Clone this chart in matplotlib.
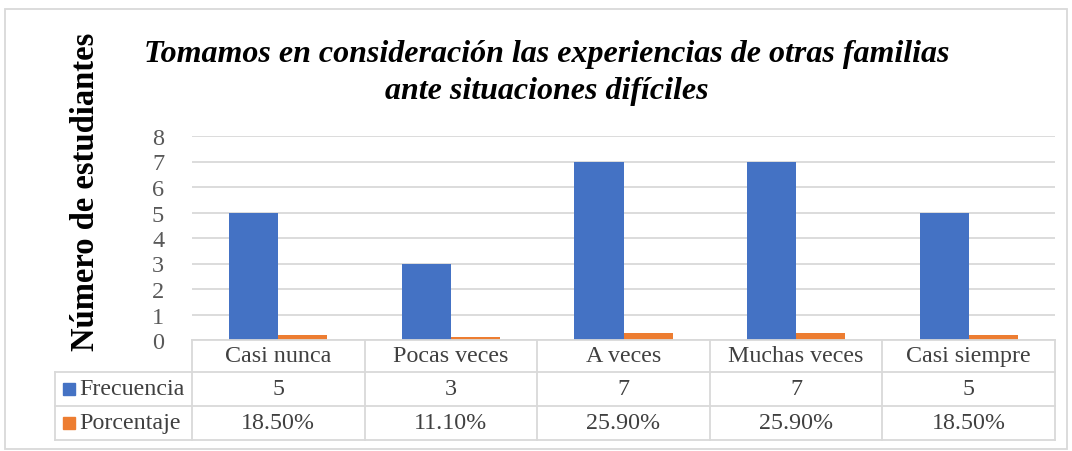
import matplotlib
matplotlib.use("Agg")
import matplotlib.pyplot as plt
from matplotlib.patches import Rectangle
from matplotlib.lines import Line2D

categories = ["Casi nunca", "Pocas veces", "A veces", "Muchas veces", "Casi siempre"]
frecuencia = [5, 3, 7, 7, 5]
porcentaje = [0.185, 0.111, 0.259, 0.259, 0.185]
porcentaje_labels = ["18.50%", "11.10%", "25.90%", "25.90%", "18.50%"]
series_names = ["Frecuencia", "Porcentaje"]
title = "Tomamos en consideración las experiencias de otras familias\nante situaciones difíciles"
ylabel = "Número de estudiantes"

W, H = 1072, 452
BLUE = "#4472C4"
ORANGE = "#ED7D31"
GRID = "#D9D9D9"
TXT = "#404040"
plt.rcParams['font.family'] = ['Liberation Serif', 'DejaVu Serif']

fig = plt.figure(figsize=(W / 100, H / 100), dpi=100)

def fx(x):
    return x / W

def fy(y):
    return 1 - y / H

ax_l, ax_r, ax_t, ax_b = 192, 1055, 137, 341
ax = fig.add_axes([fx(ax_l), fy(ax_b), fx(ax_r) - fx(ax_l), fy(ax_t) - fy(ax_b)])

n = len(categories)
xs = list(range(n))
w = 0.285
ax.bar([x - w / 2 for x in xs], frecuencia, width=w, color=BLUE, zorder=3)
ax.bar([x + w / 2 for x in xs], porcentaje, width=w, color=ORANGE, zorder=3)
ax.set_xlim(-0.5, n - 0.5)
ax.set_ylim(0, 8)
ax.set_yticks(range(0, 9))
ax.yaxis.grid(True, color=GRID, linewidth=1.3, zorder=0)
ax.set_xticks([])
for s in ax.spines.values():
    s.set_visible(False)
ax.tick_params(axis='y', length=0, labelsize=17.5, labelcolor="#595959", pad=20)

# Outer chart border
fig.patches.append(Rectangle((fx(5), fy(450)), fx(1067) - fx(5), fy(10) - fy(450),
                             transform=fig.transFigure, fill=False, edgecolor=GRID, linewidth=1.3))

# Title and y label
fig.text(fx(547), fy(73), title, ha='center', va='center', fontsize=23,
         fontweight='bold', fontstyle='italic', color='black', linespacing=1.38)
fig.text(fx(85), fy(192), ylabel, ha='center', va='center', rotation=90,
         fontsize=23.5, fontweight='bold', color='black')

# Data table
row_y = [341, 373, 407, 441]
leg_l = 55
colw = (ax_r - ax_l) / n
lines = []
lines.append(((ax_l, ax_r), (row_y[0], row_y[0])))
for yy in row_y[1:]:
    lines.append(((leg_l, ax_r), (yy, yy)))
for i in range(n + 1):
    xv = ax_l + i * colw
    lines.append(((xv, xv), (row_y[0], row_y[3])))
lines.append(((leg_l, leg_l), (row_y[1], row_y[3])))
for (x0, x1), (y0, y1) in lines:
    fig.add_artist(Line2D([fx(x0), fx(x1)], [fy(y0), fy(y1)], transform=fig.transFigure,
                          color=GRID, linewidth=1.3))

fs = 17.3
for i, c in enumerate(categories):
    cx = ax_l + (i + 0.5) * colw
    fig.text(fx(cx), fy((row_y[0] + row_y[1]) / 2), c, ha='center', va='center', fontsize=fs, color=TXT)
    fig.text(fx(cx), fy((row_y[1] + row_y[2]) / 2), str(frecuencia[i]), ha='center', va='center', fontsize=fs, color=TXT)
    fig.text(fx(cx), fy((row_y[2] + row_y[3]) / 2), porcentaje_labels[i], ha='center', va='center', fontsize=fs, color=TXT)

for k, (name, col) in enumerate(zip(series_names, [BLUE, ORANGE])):
    ymid = (row_y[k + 1] + row_y[k + 2]) / 2
    fig.patches.append(Rectangle((fx(63), fy(ymid + 6)), fx(12), 12 / H,
                                 transform=fig.transFigure, color=col))
    fig.text(fx(79), fy(ymid), name, ha='left', va='center', fontsize=fs, color=TXT)

fig.savefig("out.png", dpi=100, facecolor='white')
